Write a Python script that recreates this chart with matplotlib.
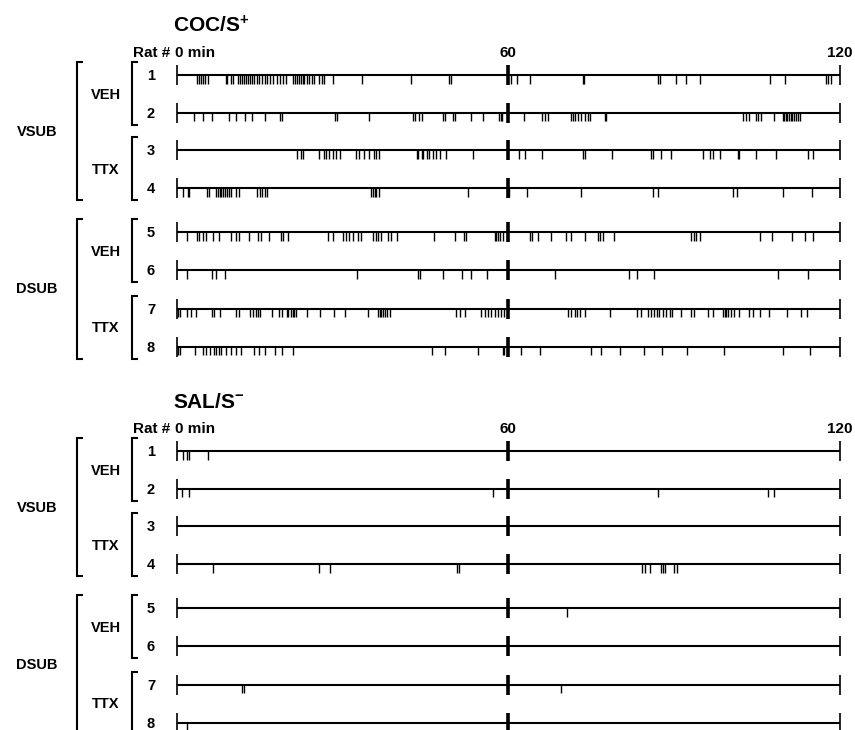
import matplotlib
matplotlib.use("Agg")
import matplotlib.pyplot as plt

plt.rcParams['font.family'] = ['Liberation Sans', 'DejaVu Sans']
plt.rcParams['mathtext.fontset'] = 'custom'
plt.rcParams['mathtext.rm'] = 'Liberation Sans:bold'
plt.rcParams['mathtext.default'] = 'rm'

# ---------------- data (event times, minutes) ----------------
panel_titles = ["COC/S$^{+}$", "SAL/S$^{-}$"]
rat_labels = ["1", "2", "3", "4", "5", "6", "7", "8"]
treat_labels = ["VEH", "TTX", "VEH", "TTX"]
region_labels = ["VSUB", "DSUB"]
tick_values = [0, 60, 120]
tick_labels = ["0 min", "60", "120"]

coc_r1 = [3.6, 4.0, 4.4, 4.8, 5.2, 5.6, 8.9, 9.1, 9.8, 10.2, 11.1, 11.4, 11.9, 12.2, 12.5,
          12.9, 13.2, 13.6, 14.0, 14.5, 14.9, 15.4, 15.9, 16.4, 16.9, 17.5, 18.2, 18.7, 19.3,
          19.8, 21.1, 21.4, 21.7, 22.1, 22.4, 22.8, 23.1, 23.5, 24.0, 24.4, 24.8, 25.8, 26.2,
          26.6, 28.2, 33.6, 42.3, 49.3, 49.6, 60.5, 61.5, 64.0, 73.5, 73.7, 87.0, 87.5, 90.4,
          92.2, 94.7, 107.4, 110.0, 117.5, 117.9, 118.4]
coc_r2 = [3.1, 4.8, 6.3, 9.5, 10.8, 12.3, 13.7, 16.0, 18.7, 19.1, 28.6, 29.0, 34.8, 42.7,
          43.1, 43.8, 44.3, 48.2, 48.5, 50.0, 50.4, 53.3, 55.4, 58.3, 58.6, 58.8, 62.9, 66.0,
          66.6, 67.2, 71.4, 71.7, 72.0, 72.6, 73.2, 73.8, 74.4, 74.7, 77.4, 77.7, 102.4, 103.0,
          103.6, 104.8, 105.1, 105.7, 108.1, 109.6, 109.9, 110.2, 110.5, 110.8, 111.1, 111.4,
          111.7, 112.1, 112.4, 112.7]
coc_r3 = [21.7, 22.4, 22.8, 25.8, 26.6, 27.1, 27.6, 28.3, 28.8, 29.6, 32.5, 33.0, 33.9, 34.8,
          35.7, 36.1, 36.6, 43.4, 43.7, 44.3, 44.6, 45.2, 45.7, 46.4, 47.0, 47.6, 48.8, 53.6,
          61.9, 63.1, 66.1, 73.5, 73.8, 78.8, 85.8, 86.1, 87.7, 89.5, 95.2, 96.5, 97.1, 98.2,
          101.5, 101.8, 104.8, 108.5, 114.2, 115.1]
coc_r4 = [1.1, 2.1, 2.3, 5.4, 5.9, 7.2, 7.5, 7.8, 8.1, 8.4, 8.7, 9.1, 9.5, 9.9, 10.8, 11.3,
          14.6, 15.1, 15.5, 16.0, 16.3, 35.2, 35.5, 35.8, 36.1, 36.6, 52.7, 60.2, 63.3, 73.2,
          86.1, 87.0, 100.6, 101.3, 109.6, 114.9]
coc_r5 = [1.9, 3.7, 4.1, 4.8, 5.3, 6.5, 7.7, 9.8, 10.8, 11.3, 13.1, 14.7, 15.2, 16.7, 18.8,
          19.2, 20.2, 27.4, 28.3, 30.1, 30.6, 31.2, 31.9, 32.8, 33.3, 35.5, 36.0, 36.4, 37.0,
          38.2, 38.7, 39.8, 46.5, 50.3, 51.9, 52.4, 57.5, 57.8, 58.1, 58.4, 59.0, 63.9, 64.2,
          65.4, 67.8, 70.5, 71.4, 73.8, 76.2, 76.5, 77.2, 79.2, 93.1, 93.5, 94.0, 94.6, 105.5,
          107.7, 111.4, 113.7, 115.2]
coc_r6 = [1.9, 6.3, 7.2, 8.7, 32.6, 43.7, 44.1, 48.1, 51.7, 53.3, 56.1, 68.4, 81.8, 83.2,
          86.4, 108.7, 114.2]
coc_r7 = [0.3, 0.6, 1.8, 2.5, 3.5, 6.3, 6.7, 7.8, 10.8, 11.3, 13.2, 13.8, 14.3, 14.7, 15.1,
          17.2, 18.5, 19.0, 19.9, 20.2, 20.6, 21.0, 21.2, 21.6, 23.6, 26.0, 28.4, 30.4, 34.6,
          36.4, 36.7, 37.0, 37.3, 37.6, 38.0, 38.5, 50.6, 51.2, 52.1, 55.1, 55.7, 56.3, 56.9,
          57.5, 58.1, 58.7, 59.3, 70.8, 71.4, 72.0, 72.4, 72.9, 73.8, 78.4, 83.2, 84.0, 85.2,
          85.8, 86.4, 86.9, 87.3, 87.9, 88.6, 89.2, 89.6, 91.3, 93.1, 93.5, 96.1, 97.0, 98.9,
          99.2, 99.4, 99.7, 100.3, 100.9, 101.8, 103.5, 104.2, 105.5, 107.2, 110.5, 113.0, 114.0]
coc_r8 = [0.3, 0.6, 3.3, 4.7, 5.3, 6.0, 6.7, 7.2, 7.7, 8.1, 9.0, 9.9, 10.8, 11.7, 14.0, 14.9,
          16.0, 17.8, 19.0, 21.0, 46.1, 48.5, 54.5, 59.0, 59.3, 62.3, 65.8, 75.0, 76.8, 80.2,
          84.5, 87.8, 92.3, 99.0, 109.6, 114.6]

sal_r1 = [1.2, 1.9, 2.3, 5.7]
sal_r2 = [0.9, 2.3, 57.3, 87.0, 107.0, 108.1]
sal_r3 = []
sal_r4 = [6.5, 25.7, 27.7, 50.8, 51.1, 84.2, 84.8, 85.6, 87.6, 88.0, 88.4, 89.9, 90.5]
sal_r5 = [70.6]
sal_r6 = []
sal_r7 = [11.9, 12.2, 69.6]
sal_r8 = [1.8]

coc_rows = [coc_r1, coc_r2, coc_r3, coc_r4, coc_r5, coc_r6, coc_r7, coc_r8]
sal_rows = [sal_r1, sal_r2, sal_r3, sal_r4, sal_r5, sal_r6, sal_r7, sal_r8]
panels = [coc_rows, sal_rows]

# ---------------- layout (pixels) ----------------
W, H = 855, 730
X0, X120 = 176.7, 840.0
panel_base = [0, 376]
row_off = [75, 112.5, 150, 188, 232, 270, 308.5, 346.5]

fig = plt.figure(figsize=(W / 100, H / 100), dpi=100)
fig.patch.set_facecolor('white')
lay = fig.add_axes([0, 0, 1, 1])
lay.set_xlim(0, W)
lay.set_ylim(H, 0)
lay.axis('off')

ax = fig.add_axes([X0 / W, 0, (X120 - X0) / W, 1])
ax.set_xlim(tick_values[0], tick_values[-1])
ax.set_ylim(H, 0)
ax.axis('off')

def bracket(x, xs, y1, y2, lw):
    lay.plot([xs, x, x, xs], [y1, y1, y2, y2], color='black', lw=lw,
             solid_joinstyle='miter', solid_capstyle='butt', clip_on=False)

for p, rows in enumerate(panels):
    base = panel_base[p]
    lay.text(173, base + 32, panel_titles[p], fontsize=15, fontweight='bold',
             ha='left', va='baseline')
    lay.text(170, base + 57, "Rat #", fontsize=11, fontweight='bold',
             ha='right', va='baseline')
    for tv, tl in zip(tick_values, tick_labels):
        ha = 'left' if tv == tick_values[0] else 'center'
        xoff = -0.3 if tv == tick_values[0] else 0
        ax.text(tv + xoff, base + 57, tl, fontsize=11, fontweight='bold',
                ha=ha, va='baseline', clip_on=False)
    ys = [base + o for o in row_off]
    for r, events in enumerate(rows):
        y = ys[r]
        ax.hlines(y, tick_values[0], tick_values[-1], color='black', lw=1.5,
                  clip_on=False)
        ax.vlines(tick_values, y - 10, y + 10, color='black', lw=[1.2, 2.6, 1.2],
                  clip_on=False)
        if events:
            ax.vlines(events, y, y + 8.5, color='black', lw=1.0, clip_on=False)
        lay.text(151, y + 1, rat_labels[r], fontsize=10.5, fontweight='bold',
                 ha='center', va='center')
    # treatment brackets
    for g in range(4):
        y1 = ys[2 * g] - 13
        y2 = ys[2 * g + 1] + 12
        bracket(132, 138, y1, y2, 1.5)
        lay.text(106, (ys[2 * g] + ys[2 * g + 1]) / 2 + 1, treat_labels[g],
                 fontsize=10.5, fontweight='bold', ha='center', va='center')
    # region brackets
    for g in range(2):
        y1 = ys[4 * g] - 13
        y2 = ys[4 * g + 3] + 12
        bracket(77, 83, y1, y2, 1.5)
        lay.text(37, (ys[4 * g] + ys[4 * g + 3]) / 2, region_labels[g],
                 fontsize=10.5, fontweight='bold', ha='center', va='center')

fig.savefig("out.png", dpi=100, facecolor='white')
